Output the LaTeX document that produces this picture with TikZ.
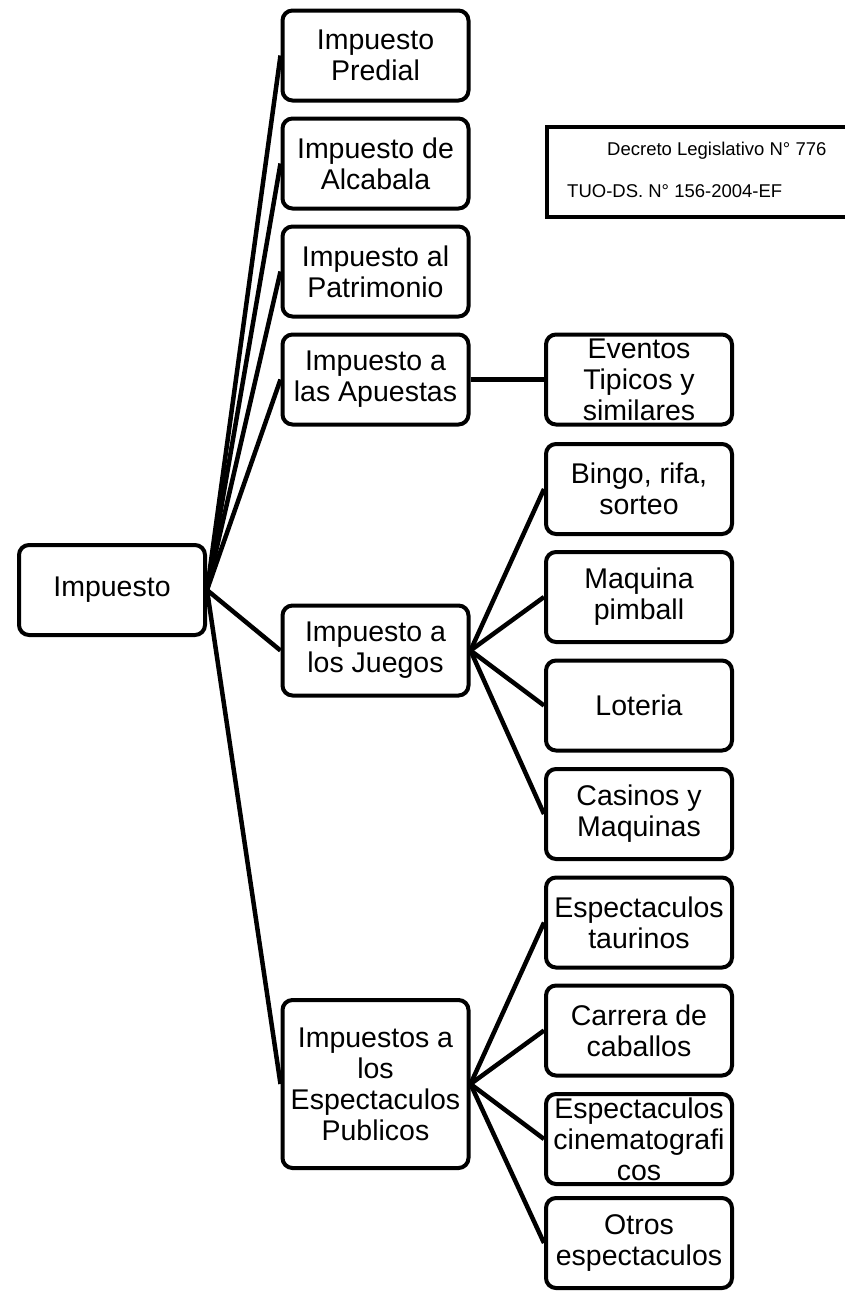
\documentclass[tikz,border=0pt]{standalone}
\usepackage{fontspec}
\setmainfont{Liberation Sans}
\begin{document}
\begin{tikzpicture}[x=1pt,y=-1pt,
  box/.style={draw, line width=4pt, rounded corners=10pt, fill=white,
    minimum width=186pt, minimum height=90pt, inner sep=1pt, align=center,
    font=\fontsize{28.5}{31}\selectfont},
  conn/.style={line width=4.5pt},
  small/.style={font=\fontsize{18.5}{21}\selectfont, inner sep=0pt, anchor=base west}]
\useasboundingbox (0,0) rectangle (845,1291);
% connectors first (under the boxes)
\coordinate (impE) at (207,590);
% root
\node[box] (imp) at (112,590) {Impuesto};
% level 2
\node[box] (pred) at (375.5,55.5) {Impuesto\\Predial};
\node[box] (alc) at (375.5,163.5) {Impuesto de\\Alcabala};
\node[box] (pat) at (375.5,271.5) {Impuesto al\\Patrimonio};
\node[box] (apu) at (375.5,379.5) {Impuesto a\\las Apuestas};
\node[box] (jue) at (375.5,650.5) {Impuesto a\\los Juegos};
\node[box, minimum height=168pt] (pub) at (375.5,1084) {Impuestos a\\los\\Espectaculos\\Publicos};
% level 3
\node[box] (eve) at (639,379.5) {Eventos\\Tipicos y\\similares};
\node[box] (bin) at (639,489) {Bingo, rifa,\\sorteo};
\node[box] (maq) at (639,597) {Maquina\\pimball};
\node[box] (lot) at (639,705.5) {Loteria};
\node[box] (cas) at (639,814) {Casinos y\\Maquinas};
\node[box] (tau) at (639,922.5) {Espectaculos\\taurinos};
\node[box] (car) at (639,1030.5) {Carrera de\\caballos};
\node[box] (cin) at (639,1139) {Espectaculos\\cinematografi\\cos};
\node[box] (otr) at (639,1243) {Otros\\espectaculos};
% connectors
\foreach \c in {pred,alc,pat,apu,jue,pub} \draw[conn] (imp.east) -- (\c.west);
\draw[conn] (apu.east) -- (eve.west);
\foreach \c in {bin,maq,lot,cas} \draw[conn] (jue.east) -- (\c.west);
\foreach \c in {tau,car,cin,otr} \draw[conn] (pub.east) -- (\c.west);
% decree box
\node[draw, line width=4pt, anchor=north west, minimum width=320pt, minimum height=90pt, inner sep=0pt] (dec) at (545,125) {};
\node[small] (d1) at (607,155) {Decreto Legislativo N° 776};
\node[small] (d2) at (567,197) {TUO-DS. N° 156-2004-EF};
\end{tikzpicture}
\end{document}
